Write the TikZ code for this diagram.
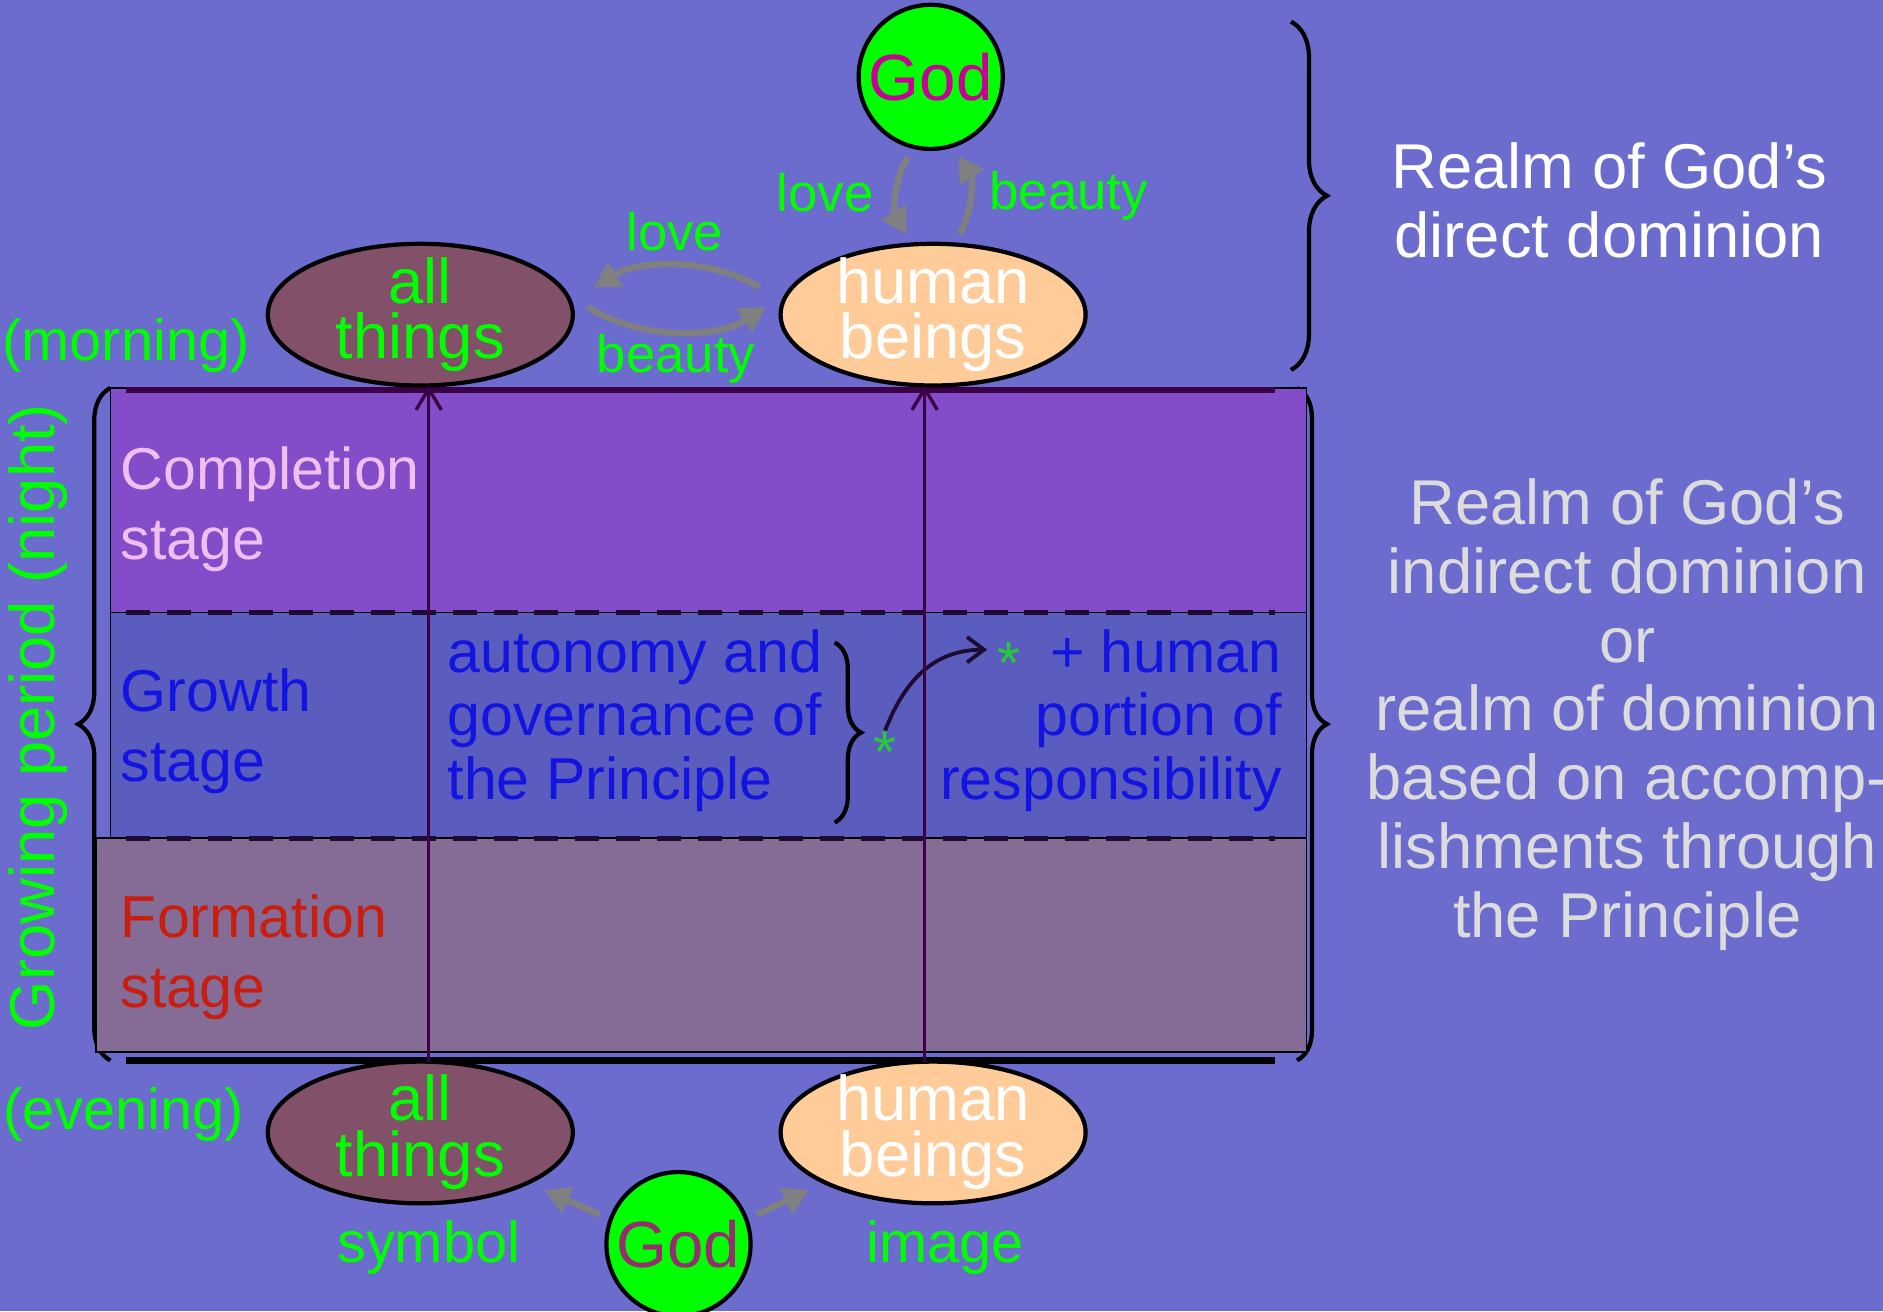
\documentclass[tikz,border=0pt]{standalone}
\usepackage{fontspec}
\setmainfont{Liberation Sans}
\usepackage{xcolor}
\usetikzlibrary{shapes.geometric,decorations.pathreplacing,arrows.meta,positioning}

\definecolor{bgblue}{RGB}{107,108,206}
\definecolor{complfill}{RGB}{131,76,200}
\definecolor{growfill}{RGB}{90,92,190}
\definecolor{formfill}{RGB}{132,108,150}
\definecolor{thingsfill}{RGB}{130,80,105}
\definecolor{humanfill}{RGB}{255,204,153}
\definecolor{brightgreen}{RGB}{0,255,0}
\definecolor{stargreen}{RGB}{40,200,60}
\definecolor{godmagenta}{RGB}{200,0,150}
\definecolor{godplum}{RGB}{150,45,110}
\definecolor{pinktext}{RGB}{240,190,240}
\definecolor{bluetext}{RGB}{20,20,225}
\definecolor{redtext}{RGB}{200,30,15}
\definecolor{greytext}{RGB}{220,220,220}
\definecolor{darkbar}{RGB}{60,0,70}
\definecolor{dashdark}{RGB}{30,10,50}

\tikzset{
    >={Stealth[length=3pt]},
    % ovals and balls
    godball/.style={circle, draw=black, line width=1pt, fill=brightgreen,
        minimum size=12mm, inner sep=0pt, outer sep=0pt,
        text=godmagenta, font=\fontsize{15.5}{16}\selectfont},
    thingsoval/.style={ellipse, draw=black, line width=1pt, fill=thingsfill,
        minimum width=25.4mm, minimum height=11.8mm, inner xsep=0pt, inner ysep=-2mm,
        outer sep=0pt, align=center, text=brightgreen,
        font=\fontsize{15}{13.2}\selectfont},
    humanoval/.style={thingsoval, fill=humanfill, text=white},
    % arrows
    giftarrow/.style={draw=gray, line width=1.5pt,
        -{Triangle[length=6pt,width=6.5pt]}, shorten <=1mm, shorten >=1mm},
    growline/.style={draw=darkbar, line width=0.8pt,
        -{Straight Barb[length=5pt,width=6pt]}},
    linkarrow/.style={draw=dashdark, line width=0.9pt,
        -{Straight Barb[length=4pt,width=6pt]}},
    bracebar/.style={draw=black, line width=1pt, decorate},
    % rows and bars
    rowbox/.style={draw=black, line width=0.4pt},
    dashbar/.style={draw=dashdark, line width=1.2pt, dash pattern={on 2mm off 1.4mm}},
    % texts
    greenlabel/.style={text=brightgreen, inner sep=0pt, font=\fontsize{13.7}{15}\selectfont},
    giftlabel/.style={text=brightgreen, inner sep=0pt, font=\fontsize{12.5}{14}\selectfont},
    stagelabel/.style={anchor=west, align=left, inner sep=0pt, font=\fontsize{14}{16.5}\selectfont},
    growthtext/.style={text=bluetext, inner sep=0pt, font=\fontsize{14}{15}\selectfont},
    realmtext/.style={align=center, inner sep=0pt, font=\fontsize{15}{16.3}\selectfont}
}

\begin{document}
\begin{tikzpicture}[x=0.1mm, y=-0.1mm]

    % =========================================================================
    % BACKGROUND
    % =========================================================================
    \fill[bgblue] (0,0) rectangle (1568,1092);
    \useasboundingbox (0,0) rectangle (1568,1092);

    % braces round the table and the top realm
    \draw[bracebar, decoration={brace, amplitude=2.7mm}] (92,883) -- (92,323);
    \draw[bracebar, decoration={brace, amplitude=3mm}] (1075,18) -- (1075,308);
    \draw[bracebar, decoration={brace, amplitude=2.5mm}] (1080,323) -- (1080,883);

    % =========================================================================
    % STAGE ROWS
    % =========================================================================
    \filldraw[rowbox, fill=complfill] (92,323) rectangle (1088,510);
    \filldraw[rowbox, fill=growfill] (92,510) rectangle (1088,698);
    \filldraw[rowbox, fill=formfill] (80,698) rectangle (1088,876);

    \draw[darkbar, line width=1.4pt] (105,325) -- (1062,325);
    \draw[dashbar] (105,510) -- (1062,510);
    \draw[dashbar] (105,698) -- (1062,698);
    \draw[black, line width=1.5pt] (105,883) -- (1062,883);

    \node[stagelabel, text=pinktext] (compl) at (100,424) {Completion\\stage};
    \node[stagelabel, text=bluetext] (grow) at (100,609) {Growth\\stage};
    \node[stagelabel, text=redtext] (form) at (100,797) {Formation\\stage};

    % growth row contents
    \node[growthtext, anchor=west, align=left] (autonomy) at (372,600)
        {autonomy and\\governance of\\the Principle};
    \draw[bracebar, decoration={brace, amplitude=2.2mm}] (695,535) -- (695,685);
    \node[text=stargreen, inner sep=0pt, font=\fontsize{14}{15}\selectfont] (starL) at (737,626) {*};
    \node[growthtext, anchor=east, align=right] (portion) at (1068,600)
        {\raisebox{-2.5pt}{\textcolor{stargreen}{*}}\hspace{7pt}+ human\\portion of\\responsibility};
    \coordinate (starR) at (822,541);
    \draw[linkarrow] (starL.north) .. controls (752,570) and (775,541) .. (starR);

    % =========================================================================
    % BEINGS: evening (bottom) and morning (top)
    % =========================================================================
    \node[godball] (godT) at (775,64) {God};
    \node[thingsoval] (allT) at (350,262) {all\\things};
    \node[humanoval] (humT) at (777,262) {human\\beings};
    \node[thingsoval] (allB) at (350,943) {all\\things};
    \node[humanoval] (humB) at (777,943) {human\\beings};
    \node[godball, text=godplum] (godB) at (565,1036) {God};

    \draw[growline] ([xshift=0.7mm]allB.north) -- ([xshift=0.7mm]allT.south);
    \draw[growline] ([xshift=-0.7mm]humB.north) -- ([xshift=-0.7mm]humT.south);

    % give and receive
    \draw[giftarrow] (godT.257) to[bend right=32] (humT.106);
    \draw[giftarrow] (humT.74) to[bend right=32] (godT.287);
    \draw[giftarrow, shorten <=2.3mm, shorten >=2.3mm] (humT.175) to[bend right=31] (allT.5);
    \draw[giftarrow, shorten <=2.3mm, shorten >=2.3mm] (allT.9) to[bend right=33] (humT.171);
    \draw[giftarrow, shorten >=1.5mm] (godB.160) -- (allB.-25);
    \draw[giftarrow, shorten >=1.5mm] (godB.20) -- (humB.205);

    \node[giftlabel] (loveT) at (687,160) {love};
    \node[giftlabel] (beautyT) at (890,163) {beauty};
    \node[giftlabel] (loveM) at (562,193) {love};
    \node[giftlabel] (beautyM) at (563,299) {beauty};
    \node[greenlabel] (symbol) at (357,1039) {symbol};
    \node[greenlabel] (image) at (787,1039) {image};
    \node[greenlabel] (morning) at (105,288) {(morning)};
    \node[greenlabel] (evening) at (103,928) {(evening)};
    \node[text=brightgreen, inner sep=0pt, rotate=90,
        font=\fontsize{15}{16.5}\selectfont] (period) at (32,597) {Growing period (night)};

    % =========================================================================
    % REALMS
    % =========================================================================
    \node[realmtext, text=white] (direct) at (1340,167) {Realm of God’s\\direct dominion};
    \node[realmtext, text=greytext] (indirect) at (1355,595)
        {Realm of God’s\\indirect dominion\\or\\realm of dominion\\based on accomp-\\lishments through\\the Principle};

\end{tikzpicture}
\end{document}
